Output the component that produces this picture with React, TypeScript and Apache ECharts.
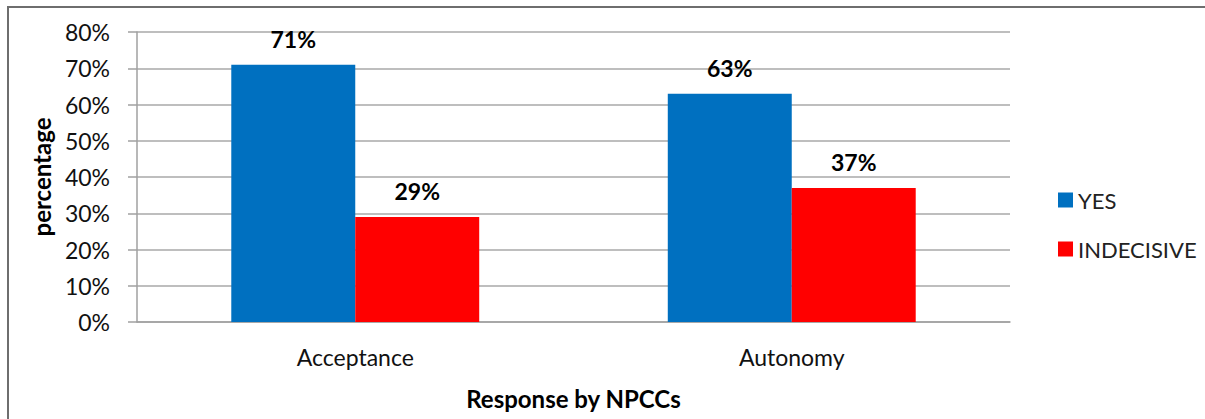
import React, { useEffect, useRef } from "react";
import * as echarts from "echarts";

const categories = ["Acceptance", "Autonomy"];
const yesValues = [71, 63];
const indecisiveValues = [29, 37];
const yTicks = [0, 10, 20, 30, 40, 50, 60, 70, 80];

export default function App() {
  const ref = useRef<HTMLDivElement>(null);
  useEffect(() => {
    if (!ref.current) return;
    const chart = echarts.init(ref.current, null, { renderer: "svg" });
    const font = "Lato, 'Open Sans', sans-serif";
    const label = {
      show: true,
      position: "top" as const,
      formatter: "{c}%",
      fontFamily: font,
      fontWeight: "bold" as const,
      fontSize: 23,
      color: "#000",
      distance: 14,
    };
    chart.setOption({
      animation: false,
      textStyle: { fontFamily: font },
      graphic: [
        {
          type: "rect",
          shape: { x: 8, y: 7, width: 1400, height: 600 },
          style: { fill: "none", stroke: "#6e6e6e", lineWidth: 2 },
          silent: true,
        },
      ],
      grid: { left: 137, top: 32, right: 1205 - 1010, bottom: 419 - 322 },
      legend: {
        orient: "vertical",
        left: 1053,
        top: 184,
        itemWidth: 15,
        itemHeight: 15,
        itemGap: 27,
        icon: "rect",
        textStyle: { fontSize: 22, color: "#222", fontFamily: font },
        data: ["YES", "INDECISIVE"],
      },
      xAxis: {
        type: "category",
        data: categories,
        name: "Response by NPCCs",
        nameLocation: "middle",
        nameGap: 64,
        nameTextStyle: { fontSize: 24, fontWeight: "bold", color: "#000", fontFamily: font },
        axisLine: { lineStyle: { color: "#a0a0a0", width: 1.5 } },
        axisTick: { show: false },
        axisLabel: { fontSize: 23, color: "#111", margin: 23, fontFamily: font },
      },
      yAxis: {
        type: "value",
        min: yTicks[0],
        max: yTicks[yTicks.length - 1],
        interval: 10,
        name: "percentage",
        nameLocation: "middle",
        nameGap: 80,
        nameRotate: 90,
        nameTextStyle: { fontSize: 24, fontWeight: "bold", color: "#000", fontFamily: font },
        axisLine: { show: true, lineStyle: { color: "#a0a0a0", width: 1.5 } },
        axisTick: { show: true, length: 9, lineStyle: { color: "#a0a0a0", width: 1.5 } },
        axisLabel: { formatter: "{value}%", fontSize: 23, color: "#111", margin: 27, fontFamily: font },
        splitLine: { lineStyle: { color: "#a8a8a8", width: 1.5 } },
      },
      series: [
        {
          name: "YES",
          type: "bar",
          data: yesValues,
          itemStyle: { color: "#0070C0" },
          barWidth: "28.4%",
          barGap: "0%",
          label,
        },
        {
          name: "INDECISIVE",
          type: "bar",
          data: indecisiveValues,
          itemStyle: { color: "#FF0000" },
          barWidth: "28.4%",
          barGap: "0%",
          label,
        },
      ],
    });
    return () => chart.dispose();
  }, []);
  return (
    <div
      ref={ref}
      style={{ position: "fixed", left: 0, top: 0, width: 1205, height: 419, background: "#fff" }}
    />
  );
}
